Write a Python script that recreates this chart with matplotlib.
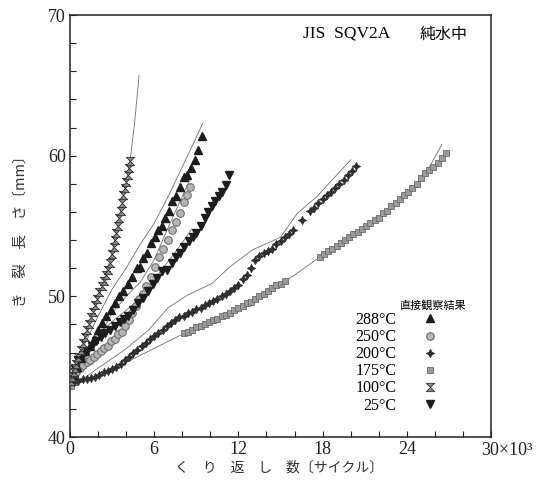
import matplotlib
matplotlib.use("Agg")
import matplotlib.pyplot as plt
from matplotlib.path import Path

plt.rcParams['font.family'] = ['Liberation Serif', 'Noto Sans CJK JP']

# crack length (mm) vs cycles (x10^3)
x288 = [0.2, 0.5, 0.8, 1.1, 1.4, 1.7, 2.0, 2.3, 2.6, 2.9, 3.2, 3.5, 3.8, 4.1, 4.4, 4.75, 5.0,
        5.2, 5.5, 5.8, 6.05, 6.3, 6.55, 6.8, 7.05, 7.3, 7.55, 7.85, 8.1, 8.35, 8.6, 8.9, 9.15, 9.4]
y288 = [44.4, 45.0, 45.6, 46.1, 46.5, 47.0, 47.6, 48.1, 48.6, 49.0, 49.5, 50.0, 50.4, 50.9, 51.4, 52.0, 52.1,
        52.7, 53.1, 53.8, 54.2, 54.7, 55.0, 55.6, 56.1, 56.8, 57.1, 57.8, 58.5, 58.6, 59.1, 59.7, 60.4, 61.4]

x250 = [0.2, 0.45, 0.7, 0.95, 1.2, 1.45, 1.7, 1.95, 2.2, 2.45, 2.7, 2.95, 3.2, 3.45, 3.7, 3.95, 4.2,
        4.45, 4.7, 4.95, 5.2, 5.45, 5.75, 6.05, 6.35, 6.65, 6.95, 7.25, 7.55, 7.85, 8.1, 8.35, 8.55]
y250 = [44.3, 44.6, 44.9, 45.1, 45.3, 45.5, 45.7, 45.9, 46.1, 46.3, 46.5, 46.8, 47.0, 47.3, 47.5, 47.9, 48.3,
        48.8, 49.3, 49.8, 50.2, 50.7, 51.4, 52.1, 52.8, 53.4, 54.0, 54.7, 55.3, 55.9, 56.7, 57.2, 57.8]

x200 = [0.3, 0.6, 0.9, 1.2, 1.5, 1.8, 2.1, 2.4, 2.7, 3.0, 3.3, 3.6, 3.9, 4.2, 4.5, 4.8, 5.1, 5.4, 5.7,
        6.0, 6.3, 6.6, 6.9, 7.2, 7.5, 7.8, 8.1, 8.4, 8.7, 9.0, 9.3, 9.6, 9.9, 10.2, 10.5, 10.8, 11.1,
        11.4, 11.7, 12.0, 12.3, 12.6, 12.9, 13.2, 13.5, 13.8, 14.1, 14.4, 14.7, 15.0, 15.3, 15.6, 15.9,
        16.5, 17.1, 17.4, 17.7, 18.0, 18.3, 18.6, 18.9, 19.2, 19.5, 19.8, 20.1, 20.4]
y200 = [43.9, 44.0, 44.1, 44.1, 44.2, 44.3, 44.4, 44.6, 44.7, 44.8, 45.0, 45.2, 45.5, 45.7, 46.0, 46.2, 46.5, 46.7, 47.0,
        47.2, 47.4, 47.6, 47.9, 48.1, 48.3, 48.5, 48.6, 48.8, 48.9, 49.1, 49.2, 49.4, 49.5, 49.7, 49.8, 50.0, 50.2,
        50.4, 50.6, 50.8, 51.2, 51.5, 52.0, 52.6, 52.9, 53.1, 53.2, 53.4, 53.7, 53.9, 54.2, 54.4, 54.7,
        55.4, 56.1, 56.3, 56.6, 56.9, 57.2, 57.4, 57.7, 58.0, 58.3, 58.6, 58.9, 59.3]

x175 = [0.1, 0.3, 8.1, 8.4, 8.7, 9.0, 9.3, 9.6, 9.9, 10.2, 10.5, 10.8, 11.1, 11.4, 11.7, 12.0, 12.3, 12.6,
        12.9, 13.2, 13.5, 13.8, 14.1, 14.4, 14.7, 15.0, 15.3,
        17.8, 18.1, 18.4, 18.7, 19.0, 19.3, 19.6, 19.9, 20.2, 20.5, 20.8, 21.1, 21.4, 21.7, 22.0, 22.3,
        22.6, 22.9, 23.2, 23.5, 23.8, 24.1, 24.4, 24.7, 25.0, 25.3, 25.6, 25.9, 26.2, 26.5, 26.8]
y175 = [43.6, 43.9, 47.4, 47.5, 47.6, 47.8, 47.9, 48.0, 48.2, 48.3, 48.4, 48.6, 48.7, 48.8, 49.0, 49.2, 49.3, 49.5,
        49.6, 49.8, 50.0, 50.2, 50.4, 50.6, 50.8, 50.9, 51.1,
        52.8, 53.0, 53.2, 53.4, 53.6, 53.8, 54.0, 54.2, 54.4, 54.6, 54.8, 55.0, 55.2, 55.4, 55.6, 55.9,
        56.1, 56.4, 56.6, 56.9, 57.2, 57.4, 57.7, 58.0, 58.4, 58.8, 59.0, 59.2, 59.5, 59.8, 60.2]

x100 = [0.05, 0.15, 0.25, 0.35, 0.45, 0.6, 0.75, 0.9, 1.05, 1.2, 1.35, 1.5, 1.65, 1.8, 1.95, 2.1, 2.25, 2.4,
        2.55, 2.7, 2.85, 3.0, 3.1, 3.2, 3.3, 3.4, 3.5, 3.6, 3.7, 3.8, 3.9, 4.0, 4.1, 4.2, 4.3]
y100 = [44.0, 44.3, 44.6, 44.9, 45.2, 45.7, 46.2, 46.7, 47.1, 47.6, 48.0, 48.5, 48.9, 49.4, 49.8, 50.3, 50.7, 51.1,
        51.5, 51.9, 52.4, 53.0, 53.5, 54.0, 54.5, 55.0, 55.6, 56.1, 56.6, 57.2, 57.7, 58.1, 58.6, 59.1, 59.6]

x25 = [0.1, 0.35, 0.6, 0.9, 1.2, 1.55, 1.85, 2.2, 2.5, 2.85, 3.2, 3.55, 3.85, 4.15, 4.5, 4.85, 5.2, 5.55, 5.9,
       6.2, 6.55, 6.9, 7.25, 7.55, 7.85, 8.15, 8.45, 8.75, 9.0, 9.3, 9.6, 9.85, 10.1, 10.35, 10.6, 10.85, 11.1, 11.35]
y25 = [44.0, 44.8, 45.5, 45.8, 46.1, 46.5, 46.8, 47.1, 47.4, 47.6, 47.9, 48.2, 48.4, 48.6, 49.0, 49.5, 49.9, 50.4, 50.9,
       51.3, 51.8, 51.9, 52.4, 52.8, 53.1, 53.5, 53.9, 54.2, 54.5, 55.0, 55.6, 56.0, 56.4, 56.8, 57.1, 57.4, 57.9, 58.6]

# thin predicted curves
fit288_x = [0, 1, 2, 3, 4, 5, 6, 7, 8, 9, 9.45]
fit288_y = [44.3, 46.5, 48.6, 50.5, 52.0, 53.7, 55.2, 57.1, 59.2, 61.3, 62.3]
fit250_x = [0, 1, 2, 3, 4, 5, 6, 7, 8, 8.55]
fit250_y = [44.0, 45.4, 47.0, 48.8, 50.0, 51.0, 52.6, 54.9, 57.1, 58.3]
fit200_x = [0.2, 2, 3.9, 5.6, 7.0, 8.4, 10.1, 11.4, 13, 15, 16.2, 17.6, 20.0]
fit200_y = [43.6, 44.9, 46.2, 47.6, 49.2, 50.1, 50.9, 52.1, 53.3, 54.2, 55.9, 57.1, 59.7]
fit175_x = [0.3, 2, 4.4, 6.8, 8.2, 10, 12, 13.2, 15.4, 16.4, 17.8, 20, 22, 24, 25.5, 26.5]
fit175_y = [43.7, 44.3, 45.5, 46.7, 47.4, 48.2, 49.0, 49.6, 51.1, 51.8, 52.8, 54.3, 55.6, 57.3, 59.0, 60.8]
fit100_x = [0, 1, 2, 2.5, 3, 3.5, 4, 4.3, 4.6, 4.92]
fit100_y = [43.9, 46.9, 49.8, 51.3, 53.1, 55.5, 58.1, 59.8, 62.3, 65.7]
fit25_x = [0, 1, 2, 3, 4, 5, 6, 7, 8, 8.67]
fit25_y = [44.2, 45.9, 47.3, 48.2, 49.0, 49.9, 51.2, 52.5, 53.8, 54.8]

hourglass = Path([(-1, 1), (1, 1), (-1, -1), (1, -1), (-1, 1)],
                 [Path.MOVETO, Path.LINETO, Path.LINETO, Path.LINETO, Path.CLOSEPOLY])

fig = plt.figure(figsize=(5.46, 4.82), dpi=100)
ax = fig.add_axes([70/546, 1-437/482, 421/546, 422/482])

for fx, fy in [(fit288_x, fit288_y), (fit250_x, fit250_y), (fit200_x, fit200_y),
               (fit175_x, fit175_y), (fit100_x, fit100_y), (fit25_x, fit25_y)]:
    ax.plot(fx, fy, color='#707070', lw=0.6, zorder=1)

ax.plot(x175, y175, ls='none', marker='s', ms=5, mfc='#9a9a9a', mec='#6a6a6a', mew=0.6, label='175°C', zorder=2)
ax.plot(x200, y200, ls='none', marker=(4, 1, 0), ms=6, color='#2e2e2e', mew=0.5, label='200°C', zorder=3)
ax.plot(x250, y250, ls='none', marker='o', ms=5.5, mfc='#b5b5b5', mec='#707070', mew=0.8, label='250°C', zorder=3)
ax.plot(x288, y288, ls='none', marker='^', ms=5.5, color='#1c1c1c', label='288°C', zorder=3)
ax.plot(x25, y25, ls='none', marker='v', ms=5.5, color='#1c1c1c', label='25°C', zorder=3)
ax.plot(x100, y100, ls='none', marker=hourglass, ms=6, mfc='#8a8a8a', mec='#303030', mew=0.6, label='100°C', zorder=3)

ax.set_xlim(0, 30)
ax.set_ylim(40, 70)
xt = list(range(0, 31, 2))
ax.set_xticks(xt, [str(v) if v % 6 == 0 and v < 30 else '' for v in xt])
yt = list(range(40, 71, 2))
ax.set_yticks(yt, [str(v) if v % 10 == 0 else '' for v in yt])
ax.tick_params(direction='in', length=4, width=0.8, labelsize=13, pad=3, colors='#222222')
for s in ax.spines.values():
    s.set_linewidth(1.1)
    s.set_color('#222222')

ax.annotate('30×10³', xy=(30, 40), xytext=(-7, -3.5), textcoords='offset points',
            ha='left', va='top', fontsize=13, color='#222222')

ax.text(303/546, 1-34/482, 'JIS  SQV2A', transform=fig.transFigure, ha='left', va='center', fontsize=12.5)
ax.text(468/546, 1-34/482, '純水中', transform=fig.transFigure, ha='right', va='center', fontsize=11.5,
        family='Noto Sans CJK JP')

fig.text(279/546, 1-468/482, 'く　り　返　し　数〔サイクル〕', ha='center', va='center', fontsize=10,
         family='Noto Sans CJK JP', color='#333333')
fig.text(21/546, 1-228/482, 'き　裂　長　さ〔mm〕', ha='center', va='center', rotation=90, fontsize=10.5,
         family='Noto Sans CJK JP', color='#333333')

handles, labels = ax.get_legend_handles_labels()
order = ['288°C', '250°C', '200°C', '175°C', '100°C', '25°C']
hmap = dict(zip(labels, handles))
ax.legend([hmap[k] for k in order], order, markerfirst=False, frameon=False, fontsize=11.5,
          handlelength=1.0, handletextpad=1.6, labelspacing=0.07, borderpad=0, borderaxespad=0,
          loc='upper right', bbox_to_anchor=(438/546, 1-312/482), bbox_transform=fig.transFigure)
fig.text(433/546, 1-305/482, '直接観察結果', ha='center', va='center', fontsize=8, family='Noto Sans CJK JP')

fig.savefig('out.png', dpi=100)
